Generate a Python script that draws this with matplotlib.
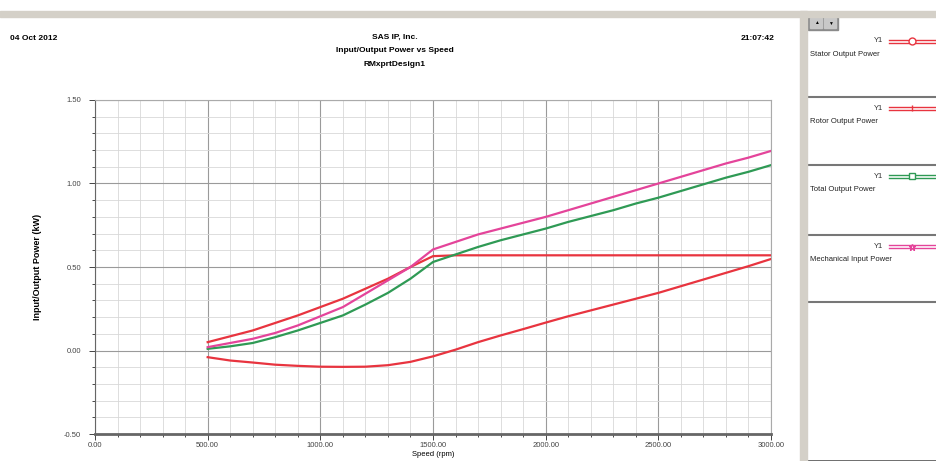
import matplotlib.pyplot as plt
from matplotlib.lines import Line2D
from matplotlib.patches import Rectangle
from matplotlib.ticker import MultipleLocator

plt.rcParams['font.family'] = ['Liberation Sans', 'DejaVu Sans']

# speed (rpm)
speed = [500, 600, 700, 800, 900, 1000, 1100, 1200, 1300, 1400, 1500,
         1600, 1700, 1800, 1900, 2000, 2100, 2200, 2300, 2400, 2500,
         2600, 2700, 2800, 2900, 3000]

# powers (kW)
stator = [0.05, 0.085, 0.12, 0.165, 0.21, 0.26, 0.31, 0.37, 0.43, 0.50, 0.565,
          0.57, 0.57, 0.57, 0.57, 0.57, 0.57, 0.57, 0.57, 0.57, 0.57,
          0.57, 0.57, 0.57, 0.57, 0.57]
rotor = [-0.04, -0.06, -0.072, -0.085, -0.092, -0.097, -0.098, -0.097, -0.088, -0.068, -0.035,
         0.005, 0.05, 0.09, 0.128, 0.167, 0.205, 0.24, 0.275, 0.31, 0.345,
         0.385, 0.425, 0.465, 0.505, 0.548]
total = [0.01, 0.025, 0.045, 0.08, 0.12, 0.165, 0.21, 0.275, 0.345, 0.43, 0.53,
         0.575, 0.62, 0.66, 0.695, 0.73, 0.77, 0.805, 0.84, 0.88, 0.915,
         0.955, 0.995, 1.035, 1.07, 1.11]
mech = [0.02, 0.045, 0.07, 0.105, 0.15, 0.205, 0.26, 0.34, 0.42, 0.50, 0.605,
        0.65, 0.695, 0.73, 0.765, 0.80, 0.84, 0.88, 0.92, 0.96, 1.0,
        1.04, 1.08, 1.12, 1.155, 1.195]

names = ["Stator Output Power", "Rotor Output Power",
         "Total Output Power", "Mechanical Input Power"]
colors = ["#e8343f", "#e8343f", "#2f9a55", "#e4449a"]
markers = ["o", "|", "s", "*"]

W, H = 937, 461
fig = plt.figure(figsize=(W / 100, H / 100), dpi=100)

# window frame bits
fig.patches.append(Rectangle((0, 1 - 17 / H), 1, 6 / H, transform=fig.transFigure,
                             color="#d4d0c8", zorder=0))
fig.patches.append(Rectangle((800 / W, 0), 7 / W, 1 - 11 / H, transform=fig.transFigure,
                             color="#d4d0c8", zorder=0))

ax = fig.add_axes([95 / W, 1 - 434 / H, (771 - 95) / W, (434 - 100) / H])
series = [stator, rotor, total, mech]
for vals, c in zip(series, colors):
    ax.plot(speed, vals, color=c, lw=1.6, zorder=3)

ax.set_xlim(0, 3000)
ax.set_ylim(-0.5, 1.5)
ax.xaxis.set_major_locator(MultipleLocator(500))
ax.xaxis.set_minor_locator(MultipleLocator(100))
ax.yaxis.set_major_locator(MultipleLocator(0.5))
ax.yaxis.set_minor_locator(MultipleLocator(0.1))
ax.xaxis.set_major_formatter(lambda v, p: f"{v:.2f}")
ax.yaxis.set_major_formatter(lambda v, p: f"{v:.2f}")
ax.grid(which="major", color="#9a9a9a", lw=0.8)
ax.grid(which="minor", color="#d8d8d8", lw=0.6)
ax.tick_params(labelsize=5.5, colors="#444444", length=4, width=0.7)
ax.tick_params(axis="x", pad=2)
ax.tick_params(axis="y", pad=6)
ax.tick_params(which="minor", length=2, width=0.5)
for s in ax.spines.values():
    s.set_color("#666666")
    s.set_linewidth(0.8)
ax.spines["bottom"].set_linewidth(2)
ax.spines["top"].set_color("#aaaaaa")
ax.spines["right"].set_color("#aaaaaa")
ax.set_xlabel("Speed (rpm)", fontsize=5.5, labelpad=1)
ax.set_ylabel("Input/Output Power (kW)", fontsize=6.5, fontweight="bold")
ax.yaxis.set_label_coords(-0.078, 0.5)

# header
hdr = dict(fontsize=6, fontweight="bold", va="center")
fig.text(10 / W, 1 - 38 / H, "04 Oct 2012", ha="left", **hdr)
fig.text(395 / W, 1 - 37 / H, "SAS IP, Inc.", ha="center", **hdr)
fig.text(395 / W, 1 - 51 / H, "Input/Output Power vs Speed", ha="center", **hdr)
fig.text(395 / W, 1 - 64 / H, "RMxprtDesign1", ha="center", **hdr)
fig.text(775 / W, 1 - 38 / H, "21:07:42", ha="right", **hdr)

# legend panel
lg = fig.add_axes([807 / W, 0, 1 - 807 / W, 1 - 15 / H])
lg.set_xlim(807, W)
lg.set_ylim(H, 15)
lg.axis("off")
lg.add_patch(Rectangle((807, 15), W - 807, H - 15, fill=False, ec="#555555", lw=1.2))
lg.add_patch(Rectangle((808, 16), 30, 14, color="#8a8a8a"))
lg.add_patch(Rectangle((810, 18), 12, 10, color="#c8c8c8"))
lg.add_patch(Rectangle((824, 18), 12, 10, color="#c8c8c8"))
lg.text(816, 23, "\u25b2", fontsize=3.5, ha="center", va="center")
lg.text(830, 23, "\u25bc", fontsize=3.5, ha="center", va="center")
tops = [30, 97, 165, 235]
for i, (name, c, m) in enumerate(zip(names, colors, markers)):
    y0 = tops[i]
    if i > 0:
        lg.plot([807, W], [y0, y0], color="#777777", lw=1.5)
    lg.text(883, y0 + 11, "Y1", fontsize=5.5, ha="right", va="center", color="#333333")
    lg.add_line(Line2D([889, W], [y0 + 10, y0 + 10], color=c, lw=1))
    lg.add_line(Line2D([889, W], [y0 + 13, y0 + 13], color=c, lw=1))
    lg.plot([912], [y0 + 11.5], marker=m, ms=5, mfc="white", mec=c, color=c)
    lg.text(810, y0 + 24, name, fontsize=5.5, ha="left", va="center", color="#222222")
lg.plot([807, W], [302, 302], color="#777777", lw=1.5)

fig.savefig("out.png", dpi=100)
